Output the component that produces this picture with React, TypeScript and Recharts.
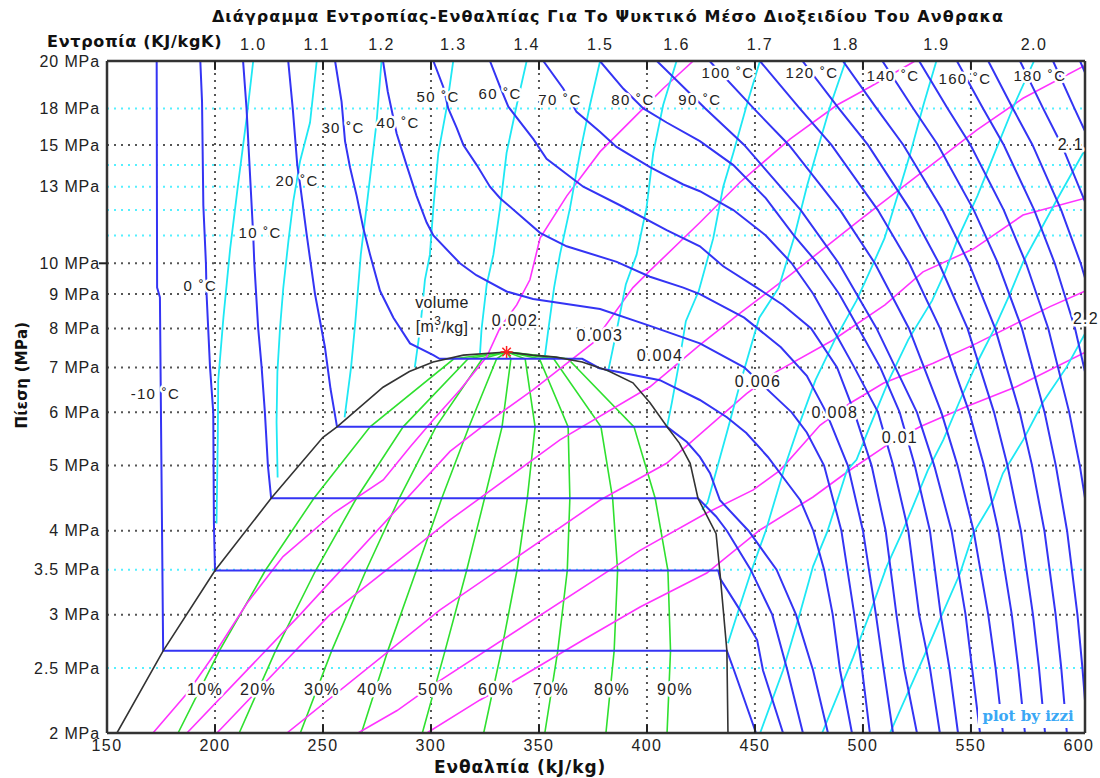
import React from 'react';
import { ComposedChart, Line, XAxis, YAxis, ReferenceLine, ReferenceDot } from 'recharts';

// ---------- axes ----------
const enthalpyTicks = [150, 200, 250, 300, 350, 400, 450, 500, 550, 600];
const enthalpyGrid = [200, 250, 300, 350, 400, 450, 500, 550];
const pressureTicks = [2, 2.5, 3, 3.5, 4, 5, 6, 7, 8, 9, 10, 13, 15, 17, 20];
const pressureTickLabels = ['2 MPa', '2.5 MPa', '3 MPa', '3.5 MPa', '4 MPa', '5 MPa', '6 MPa', '7 MPa', '8 MPa', '9 MPa', '10 MPa', '13 MPa', '15 MPa', '18 MPa', '20 MPa'];
const pressureGridBlack = [3, 4, 5, 6, 7, 8, 9, 10, 15];
const pressureGridCyan = [2.5, 3.5, 11, 12, 13, 14, 17];
const entropyTickH = [217.7, 247.1, 277.1, 310.3, 344.3, 378.3, 413.7, 452.3, 492, 534, 579.2];
const entropyTickLabels = ['1.0', '1.1', '1.2', '1.3', '1.4', '1.5', '1.6', '1.7', '1.8', '1.9', '2.0'];
const entropyEdgeLabels = ['2.1', '2.2'];
const entropyEdgeH = [599, 602.8];
const entropyEdgeP = [15.0, 8.29];

// ---------- saturation dome ----------
const domeLiquid = [[154.6, 2], [176, 2.65], [200, 3.49], [226, 4.47], [250, 5.51], [256.5, 5.71], [277.8, 6.54], [290, 6.9], [301, 7.13], [315, 7.3], [335, 7.38]];
const domeVapor = [[335, 7.38], [347, 7.3], [358, 7.25], [370, 7.13], [382, 6.92], [393.5, 6.64], [401.4, 6.2], [409.3, 5.71], [415, 5.4], [420, 5.04], [423.6, 4.47], [432, 3.96], [433.8, 3.46], [437, 2.65], [437.5, 2]];
const criticalPoint = [335, 7.38];

// ---------- isotherms (h kJ/kg, p MPa) ----------
const isoTm10 = [[173, 20], [173.2, 9.2], [174.5, 8.9], [175.2, 5], [176, 2.65], [437, 2.65], [440.3, 2.48], [450.5, 2]];
const isoT0 = [[193.2, 20], [194, 17.4], [194.6, 12.2], [195.8, 10], [196.1, 9], [197.7, 7], [199.2, 6], [199.5, 4.1], [200, 3.49], [433, 3.49], [434, 3.39], [443, 3.05], [451, 2.75], [453.7, 2.48], [463, 2]];
const isoT10 = [[213, 20], [214.6, 17], [217.7, 11], [218.2, 10], [220, 8], [221.6, 7], [223.1, 6], [224.5, 5], [226, 4.47], [423.6, 4.47], [432, 4.2], [437, 4.0], [448, 3.5], [458, 3.0], [465, 2.48], [472.2, 2]];
const isoT20 = [[233.9, 20], [236, 17], [238.1, 14], [239.4, 13.1], [242.5, 11], [246.3, 9], [250.9, 7.5], [253.5, 6.5], [256.5, 5.71], [409.3, 5.71], [418.5, 5.42], [424.5, 5.15], [429.2, 4.87], [433.8, 4.44], [447, 4.0], [460, 3.5], [469, 3.0], [476.9, 2.48], [483.8, 2]];
const isoT30 = [[255.6, 20], [258.6, 17.4], [260.2, 15.2], [262.5, 13.9], [265.6, 12.6], [268.6, 11.3], [271.8, 10.3], [276.4, 9.1], [282.6, 8.3], [290.3, 7.6], [301.1, 7.3], [304, 7.21], [370, 7.21], [378, 6.98], [406, 6.7], [424.5, 6.26], [437, 5.9], [446, 5.59], [456, 5.15], [465, 4.71], [471, 4.44], [477, 4.0], [482, 3.5], [486, 3.0], [489.4, 2.48], [494.9, 2]];
const isoT40 = [[277.8, 20], [280, 18], [284.1, 15.6], [288.7, 14], [293.3, 12.6], [298, 11.5], [301.1, 11], [313.4, 10], [321, 9.6], [335, 9.08], [347.3, 8.85], [378.3, 8.55], [401.4, 8.07], [424.5, 7.6], [445, 7.0], [460, 6.3], [467, 6.0], [474, 5.6], [482, 5.0], [490, 4.0], [496, 3.0], [499.5, 2.5], [503.2, 2]];
const isoT50 = [[301.1, 20], [305.7, 18.3], [308, 17], [311.9, 15.9], [315, 15], [321.2, 14], [327.3, 13], [332, 12.5], [350.5, 11.1], [362.8, 10.6], [386, 10.05], [401.4, 9.55], [416.8, 9.2], [424.5, 9.0], [445, 8.3], [462, 7.5], [474, 6.8], [483, 6.0], [493, 5.0], [500, 4.0], [506, 3.0], [509.5, 2.5], [513.9, 2]];
const isoT60 = [[327.3, 20], [332, 18.3], [335.8, 17.1], [347.4, 15.3], [353.5, 14.3], [370.5, 13], [387.5, 12.2], [409.1, 11.2], [424.5, 10.6], [435.3, 9.9], [450.8, 9.2], [463, 8.67], [476, 8], [488, 7], [496, 6], [504, 5], [510.5, 4], [515.5, 3], [519, 2.5], [525, 2]];
const isoT70 = [[352, 20], [361.2, 18.2], [367.4, 16.8], [378.2, 15.7], [385.9, 14.9], [401.4, 13.9], [416.8, 13.1], [424.5, 12.8], [440, 12], [455, 11], [467, 10], [477, 9], [486, 8], [496, 7], [507, 6], [514, 5], [521, 4], [526, 3], [531, 2.5], [535.6, 2]];
const isoT80 = [[378.2, 20], [389, 18.2], [398.3, 17], [409.1, 16.2], [424.5, 15.2], [440, 14], [455, 12.5], [468, 11], [479, 10], [489, 9], [498, 8], [508, 7], [517, 6], [524, 5], [531, 4], [536, 3], [540, 2.5], [544, 2]];
const isoT90 = [[404.6, 20], [427, 17], [445, 15], [471.2, 12], [488.8, 10], [506.3, 8], [525, 6], [533, 5], [541, 4], [547.5, 3], [550.5, 2.5], [554.2, 2]];
const isoT100 = [[429, 20], [449.4, 17], [465.7, 15], [489.4, 12], [505.5, 10], [521.3, 8], [536.3, 6], [543.8, 5], [551.2, 4], [558, 3], [561.4, 2.5], [564.8, 2]];
const isoT110 = [[452.3, 20], [470.7, 17], [485.4, 15], [506.9, 12], [521.4, 10], [535.7, 8], [549.2, 6], [556, 5], [562.7, 4], [568.9, 3], [571.9, 2.5], [575, 2]];
const isoT120 = [[472, 20], [488.8, 17], [502.3, 15], [522, 12], [535.2, 10], [548.4, 8], [560.7, 6], [566.9, 5], [573.1, 4], [578.7, 3], [581.5, 2.5], [584.3, 2]];
const isoT130 = [[490.7, 20], [506.3, 17], [518.7, 15], [536.8, 12], [549.1, 10], [561.2, 8], [572.6, 6], [578.3, 5], [584, 4], [589.2, 3], [591.8, 2.5], [594.4, 2]];
const isoT140 = [[509, 20], [523.3, 17], [534.7, 15], [551.3, 12], [562.5, 10], [573.6, 8], [584.1, 6], [589.3, 5], [594.5, 4], [599.3, 3], [601.6, 2.5], [604, 2]];
const isoT150 = [[526, 20], [539.2, 17], [549.8, 15], [565.2, 12], [575.5, 10], [585.8, 8], [595.5, 6], [600.4, 5], [605.2, 4], [609.6, 3], [611.8, 2.5], [614, 2]];
const isoT160 = [[543.5, 20], [555.6, 17], [565.2, 15], [579.3, 12], [588.8, 10], [598.2, 8], [607.1, 6], [611.5, 5], [616, 4], [620, 3], [622, 2.5], [624, 2]];
const isoT170 = [[558, 20], [569.4, 17], [578.5, 15], [591.8, 12], [600.8, 10], [609.7, 8], [618, 6], [622.2, 5], [626.4, 4], [630.2, 3], [632.1, 2.5], [634, 2]];
const isoT180 = [[572.7, 20], [583.4, 17], [592, 15], [604.4, 12], [612.8, 10], [621.2, 8], [629, 6], [633, 5], [636.9, 4], [640.4, 3], [642.2, 2.5], [644, 2]];
const isoT190 = [[588, 20], [597.9, 17], [605.8, 15], [617.4, 12], [625.2, 10], [632.9, 8], [640.1, 6], [643.8, 5], [647.4, 4], [650.7, 3], [652.4, 2.5], [654, 2]];
const isoT200 = [[600.5, 20], [610, 17], [617.6, 15], [628.7, 12], [636.2, 10], [643.7, 8], [650.7, 6], [654.2, 5], [657.7, 4], [660.8, 3], [662.4, 2.5], [664, 2]];

const isothermLabelText = ['-10 ˚C', '0 ˚C', '10 ˚C', '20 ˚C', '30 ˚C', '40 ˚C', '50 ˚C', '60 ˚C', '70 ˚C', '80 ˚C', '90 ˚C', '100 ˚C', '120 ˚C', '140 ˚C', '160 ˚C', '180 ˚C'];
const isothermLabelH = [172.4, 193.2, 220.9, 238, 259.3, 284.8, 303.3, 332, 359.7, 393.5, 424.5, 437.5, 476.4, 513.9, 547.2, 581.9];
const isothermLabelP = [6.41, 9.28, 11.1, 13.3, 15.95, 16.2, 17.7, 17.9, 17.5, 17.5, 17.5, 19.2, 19.2, 19.0, 18.85, 19.0];

// ---------- isentropes ----------
const s100 = [[217.7, 20], [214.7, 16.5], [210.8, 13.2], [207, 10.5], [203.9, 8.3], [201.5, 6.7], [201.3, 5.5], [200.7, 4.1]];
const s110 = [[247.1, 20], [244, 16.2], [239.4, 14.2], [236.3, 12.4], [234, 10.8], [231.6, 9.18], [230.1, 8], [228.9, 6.9], [228.5, 5.8], [229, 4.8]];
const s120 = [[277.1, 20], [274.8, 16.2], [270, 12], [267.5, 10.3], [265, 8.2], [263, 7.0], [260, 5.9]];
const s130 = [[310.3, 20], [307.2, 17], [303.4, 14.6], [301.1, 12.1], [299.5, 10.3], [297.2, 9.45], [295, 8.0], [292.5, 7.0]];
const s140 = [[344.3, 20], [339.7, 17.2], [335, 14.6], [332, 12.1], [328.9, 10.3], [325.8, 9.3], [323.4, 7.97], [322.7, 7.35]];
const s150 = [[378.3, 20], [373.6, 17.2], [369, 14.6], [364.4, 12.1], [359.7, 10.3], [357, 9.2], [354.3, 7.95], [352.8, 7.3]];
const s160 = [[413.7, 20], [407.5, 17.2], [402.9, 14.6], [399.8, 12.1], [395.2, 10.3], [390.2, 9.3], [386, 7.95], [382, 6.9]];
const s170 = [[452.3, 20], [446.2, 17.2], [440, 14.6], [435.3, 13], [430.7, 10.9], [424, 9.1], [418, 8.2], [414.5, 7.0], [411.5, 6.2], [409.3, 5.71]];
const s180 = [[492, 20], [485, 17.2], [478.5, 14.6], [474, 13], [468, 10.9], [461, 9.2], [452, 8.3], [443, 6.6], [437, 5.6], [432, 4.9], [428, 4.4], [425.5, 4.3]];
const s190 = [[534, 20], [528, 17.2], [522, 14.6], [516, 12.6], [510, 10.9], [503, 9.7], [497, 8.8], [487, 7.7], [478, 6.7], [470, 5.7], [464, 5.0], [455, 4.0], [448, 3.46], [442, 3.02], [437.5, 2.72]];
const s200 = [[579.2, 20], [570, 17.2], [561, 14.6], [553, 12.6], [544, 10.9], [538, 9.7], [532, 8.8], [521, 7.7], [512, 6.7], [503, 5.7], [497, 5.1], [492.6, 4.92], [483.4, 3.98], [476.9, 3.54], [470.9, 3.02], [463, 2.48], [452.4, 2]];
const s210 = [[603.5, 14.9], [589.6, 12.4], [574.2, 10.05], [568, 9.0], [560.4, 7.94], [552.7, 7.1], [545, 6.26], [537.2, 5.46], [530, 4.92], [518.5, 4.0], [511, 3.54], [503.3, 3.02], [495.4, 2.59], [481.1, 2]];
const s220 = [[603.5, 7.93], [594.2, 7.0], [583.3, 6.21], [574.2, 5.46], [564.8, 4.87], [560.2, 4.44], [551, 3.96], [545, 3.46], [537, 3.02], [528, 2.59], [512.5, 2]];

// ---------- isochores ----------
const v002 = [[171.3, 2], [187, 2.29], [199, 2.6], [214.8, 3.12], [231.5, 3.66], [255, 4.25], [277.9, 4.76], [290.3, 5.33], [301.1, 5.85], [313.4, 6.48], [325.8, 7.26], [332, 8.02], [339.7, 8.67], [345.8, 9.45], [350.5, 10.9], [362.9, 12.6], [378.3, 14.66], [398.3, 17], [407.5, 18.2], [421.4, 20]];
const v003 = [[187, 2], [239.4, 3.0], [308.8, 5.25], [325.9, 5.79], [347.2, 6.48], [375, 7.61], [393.5, 9.2], [401.4, 9.75], [424.5, 11.5], [443.1, 13.2], [466.2, 15.3], [488, 17.2], [503.2, 18.3], [524.1, 20]];
const v004 = [[200.9, 2], [253.2, 3.0], [308.8, 4.15], [359.7, 5.46], [401.4, 6.55], [424.5, 7.56], [443.1, 8.43], [466.2, 9.6], [498.6, 11.6], [527.8, 13.7], [552.8, 15.8], [574.1, 17.6], [602.8, 19.7]];
const v006 = [[233.3, 2], [304.2, 3.05], [378.2, 4.44], [409.1, 5.04], [446.1, 6.4], [460, 6.9], [486.2, 7.69], [510.2, 8.67], [527.8, 9.71], [551, 10.5], [574.1, 11.8], [602.8, 12.5]];
const v008 = [[266.2, 2], [284.3, 2.16], [299.5, 2.34], [396.8, 3.74], [427.6, 4.25], [449.2, 4.6], [461.6, 4.92], [480.1, 5.74], [494, 6.19], [509.4, 6.63], [532.5, 7.1], [552.6, 7.6], [586.6, 8.62], [603, 9.1]];
const v010 = [[298.1, 2], [322.7, 2.24], [336.5, 2.37], [370.4, 2.75], [396.8, 3.08], [427.7, 3.46], [452.3, 4.01], [476.9, 4.49], [493, 4.9], [512.5, 5.4], [526.4, 5.71], [548, 6.12], [571, 6.55], [605, 7.43]];
const volumeLabelText = ['0.002', '0.003', '0.004', '0.006', '0.008', '0.01'];
const volumeLabelH = [338.9, 378.2, 406, 451.4, 487, 517.1];
const volumeLabelP = [8.23, 7.82, 7.28, 6.66, 5.99, 5.51];

// ---------- quality lines (p: 2, 2.65, 3.49, 4.47, 5.71, 7.21, 7.38) ----------
const qualityP = [2, 2.65, 3.49, 4.47, 5.71, 7.21, 7.38];
const q10 = [182.9, 202, 223.3, 245.8, 271.8, 310.6, 335];
const q20 = [211.2, 228, 246.6, 265.5, 287.1, 317.2, 335];
const q30 = [239.5, 254, 269.9, 285.3, 302.3, 323.8, 335];
const q40 = [267.8, 280, 293.2, 305, 317.6, 330.4, 335];
const q50 = [296, 306.5, 316.5, 324.8, 332.9, 337, 335];
const q60 = [324.4, 332.6, 339.8, 344.6, 348.2, 343.6, 335];
const q70 = [352.7, 358.7, 363.1, 364.3, 363.5, 350.2, 335];
const q80 = [381, 384.8, 386.4, 384.1, 378.7, 356.8, 335];
const q90 = [409.3, 410.9, 409.7, 403.8, 394, 363.4, 335];
const qualityLabelText = ['10%', '20%', '30%', '40%', '50%', '60%', '70%', '80%', '90%'];
const qualityLabelH = [195.4, 219.9, 249.5, 274.1, 302.3, 330.1, 355.6, 383.8, 413];
const qualityLabelP = 2.32;

const isotherms = [isoTm10, isoT0, isoT10, isoT20, isoT30, isoT40, isoT50, isoT60, isoT70, isoT80, isoT90, isoT100, isoT110, isoT120, isoT130, isoT140, isoT150, isoT160, isoT170, isoT180, isoT190, isoT200];
const isentropes = [s100, s110, s120, s130, s140, s150, s160, s170, s180, s190, s200, s210, s220];
const isochores = [v002, v003, v004, v006, v008, v010];
const qualities = [q10, q20, q30, q40, q50, q60, q70, q80, q90];

const H_MIN = 150;
const H_MAX = 602.8;
const P_MIN = 2;
const P_MAX = 20;

const toPts = (a: number[][]) => a.map(([h, p]) => ({ h, p }));
const qPts = (hs: number[]) => hs.map((h, i) => ({ h, p: qualityP[i] }));

const FONT = '"Liberation Sans", Arial, sans-serif';
const BOLD_FONT = '"DejaVu Sans", Verdana, sans-serif';

const textShape = (txt: any, o: { size?: number; dx?: number; dy?: number; anchor?: string; halo?: boolean; fill?: string; ls?: number } = {}) =>
  (props: any) => (
    <text
      x={props.cx + (o.dx || 0)}
      y={props.cy + (o.dy || 0)}
      textAnchor={o.anchor || 'middle'}
      dominantBaseline="central"
      fontFamily={FONT}
      fontSize={o.size || 15}
      letterSpacing={o.ls === undefined ? 1.3 : o.ls}
      fill={o.fill || '#222'}
      stroke={o.halo === false ? 'none' : '#fff'}
      strokeWidth={o.halo === false ? 0 : 5}
      strokeLinejoin="round"
      paintOrder="stroke"
    >
      {txt}
    </text>
  );

const starShape = (props: any) => {
  const { cx, cy } = props;
  const r = 6;
  return (
    <g stroke="#ff2020" strokeWidth={1.5}>
      <line x1={cx - r} y1={cy} x2={cx + r} y2={cy} />
      <line x1={cx} y1={cy - r} x2={cx} y2={cy + r} />
      <line x1={cx - r * 0.7} y1={cy - r * 0.7} x2={cx + r * 0.7} y2={cy + r * 0.7} />
      <line x1={cx - r * 0.7} y1={cy + r * 0.7} x2={cx + r * 0.7} y2={cy - r * 0.7} />
    </g>
  );
};

const lineProps = { type: 'linear' as const, dataKey: 'p', dot: false, activeDot: false, isAnimationActive: false };

export default function App() {
  return (
    <div style={{ position: 'absolute', left: 0, top: 0, width: 1100, height: 778, background: '#fff', overflow: 'hidden' }}>
      <ComposedChart width={1100} height={778} margin={{ top: 61, right: 15, bottom: 0, left: 0 }} style={{ fontFamily: FONT }}>
        <XAxis
          dataKey="h"
          type="number"
          domain={[H_MIN, H_MAX]}
          ticks={enthalpyTicks}
          allowDataOverflow
          interval={0}
          height={45}
          axisLine={false}
          tickLine={false}
          tickSize={0}
          tickMargin={7}
          tick={{ fontSize: 16, fill: '#222', fontFamily: FONT, letterSpacing: 1.4 }}
        />
        <YAxis
          dataKey="p"
          type="number"
          scale="log"
          domain={[P_MIN, P_MAX]}
          ticks={pressureTicks}
          allowDataOverflow
          interval={0}
          width={107}
          axisLine={false}
          tickLine={false}
          tickSize={0}
          tickMargin={7}
          tickFormatter={(v: number) => pressureTickLabels[pressureTicks.indexOf(v)] || ''}
          tick={{ fontSize: 16, fill: '#222', fontFamily: FONT, letterSpacing: 0.9 }}
        />

        {pressureGridCyan.map((p) => (
          <ReferenceLine key={'gc' + p} y={p} stroke="#55f0ff" strokeWidth={2} strokeDasharray="2 5" />
        ))}
        {pressureGridBlack.map((p) => (
          <ReferenceLine key={'gb' + p} y={p} stroke="#555" strokeWidth={2} strokeDasharray="2 5" />
        ))}
        {enthalpyGrid.map((h) => (
          <ReferenceLine key={'gv' + h} x={h} stroke="#555" strokeWidth={2} strokeDasharray="2 5" />
        ))}

        {qualities.map((q, i) => (
          <Line key={'q' + i} {...lineProps} data={qPts(q)} stroke="#2fe02f" strokeWidth={1.6} />
        ))}
        {isochores.map((v, i) => (
          <Line key={'v' + i} {...lineProps} data={toPts(v)} stroke="#ff33ff" strokeWidth={1.6} />
        ))}
        {isentropes.map((s, i) => (
          <Line key={'s' + i} {...lineProps} data={toPts(s)} stroke="#1ee8f4" strokeWidth={1.8} />
        ))}
        {isotherms.map((t, i) => (
          <Line key={'t' + i} {...lineProps} data={toPts(t)} stroke="#3434f4" strokeWidth={2} />
        ))}
        <Line {...lineProps} data={toPts(domeLiquid)} stroke="#333" strokeWidth={1.6} />
        <Line {...lineProps} data={toPts(domeVapor)} stroke="#333" strokeWidth={1.6} />

        {/* frame */}
        <ReferenceLine x={H_MIN} stroke="#333" strokeWidth={2.5} />
        <ReferenceLine x={H_MAX} stroke="#333" strokeWidth={2.5} />
        <ReferenceLine y={P_MIN} stroke="#333" strokeWidth={2.5} />
        <ReferenceLine y={P_MAX} stroke="#333" strokeWidth={2.5} />
        {enthalpyGrid.map((h) => (
          <ReferenceLine key={'tb' + h} segment={[{ x: h, y: 2 }, { x: h, y: 2.06 }]} stroke="#222" strokeWidth={2} />
        ))}
        {enthalpyGrid.map((h) => (
          <ReferenceLine key={'tt' + h} segment={[{ x: h, y: 19.4 }, { x: h, y: 20 }]} stroke="#222" strokeWidth={2} />
        ))}
        <ReferenceLine segment={[{ x: 146.3, y: 10 }, { x: 150, y: 10 }]} stroke="#222" strokeWidth={2} ifOverflow="visible" />

        <ReferenceDot x={criticalPoint[0]} y={criticalPoint[1]} r={0} shape={starShape} />

        {isothermLabelText.map((t, i) => (
          <ReferenceDot key={'tl' + i} x={isothermLabelH[i]} y={isothermLabelP[i]} r={0} shape={textShape(t, { size: 15 })} />
        ))}
        {volumeLabelText.map((t, i) => (
          <ReferenceDot key={'vl' + i} x={volumeLabelH[i]} y={volumeLabelP[i]} r={0} shape={textShape(t, { size: 16 })} />
        ))}
        <ReferenceDot x={305.1} y={8.73} r={0} shape={textShape('volume', { size: 16, ls: 0.3 })} />
        <ReferenceDot
          x={305.1}
          y={8.04}
          r={0}
          shape={textShape(
            <>
              {'[m'}
              <tspan dy={-6} fontSize={12}>3</tspan>
              <tspan dy={6}>{'/kg]'}</tspan>
            </>,
            { size: 16, ls: 0.3 }
          )}
        />
        {qualityLabelText.map((t, i) => (
          <ReferenceDot key={'ql' + i} x={qualityLabelH[i]} y={qualityLabelP} r={0} shape={textShape(t, { size: 16 })} />
        ))}
        {entropyTickLabels.map((t, i) => (
          <ReferenceDot key={'el' + i} x={entropyTickH[i]} y={P_MAX} r={0} shape={textShape(t, { size: 16, dy: -17, halo: false, ls: 1.4 })} />
        ))}
        {entropyEdgeLabels.map((t, i) => (
          <ReferenceDot key={'ee' + i} x={entropyEdgeH[i]} y={entropyEdgeP[i]} r={0} shape={textShape(t, { size: 16, dx: i === 1 ? 1 : -6 })} />
        ))}
      </ComposedChart>

      <div style={{ position: 'absolute', left: 608, top: 7, transform: 'translateX(-50%)', whiteSpace: 'nowrap', fontFamily: BOLD_FONT, fontWeight: 'bold', fontSize: 16, letterSpacing: 1.1, color: '#111' }}>
        Διάγραμμα Εντροπίας-Ενθαλπίας Για Το Ψυκτικό Μέσο Διοξειδίου Του Ανθρακα
      </div>
      <div style={{ position: 'absolute', left: 47, top: 32, whiteSpace: 'nowrap', fontFamily: BOLD_FONT, fontWeight: 'bold', fontSize: 16, letterSpacing: 0.7, color: '#111' }}>
        Εντροπία (KJ/kgK)
      </div>
      <div style={{ position: 'absolute', left: 22, top: 375, transform: 'translate(-50%, -50%) rotate(-90deg)', whiteSpace: 'nowrap', fontFamily: BOLD_FONT, fontWeight: 'bold', fontSize: 15, letterSpacing: 0.3, color: '#111' }}>
        Πίεση (MPa)
      </div>
      <div style={{ position: 'absolute', left: 520, top: 757, transform: 'translateX(-50%)', whiteSpace: 'nowrap', fontFamily: BOLD_FONT, fontWeight: 'bold', fontSize: 17, letterSpacing: 0.9, color: '#111' }}>
        Ενθαλπία (kJ/kg)
      </div>
      <div style={{ position: 'absolute', left: 978, top: 704, width: 100, height: 24, background: '#fff', textAlign: 'center', lineHeight: '24px', whiteSpace: 'nowrap', fontFamily: '"DejaVu Serif", serif', fontWeight: 'bold', fontSize: 15, color: '#3aa8f5' }}>
        plot by izzi
      </div>
    </div>
  );
}
